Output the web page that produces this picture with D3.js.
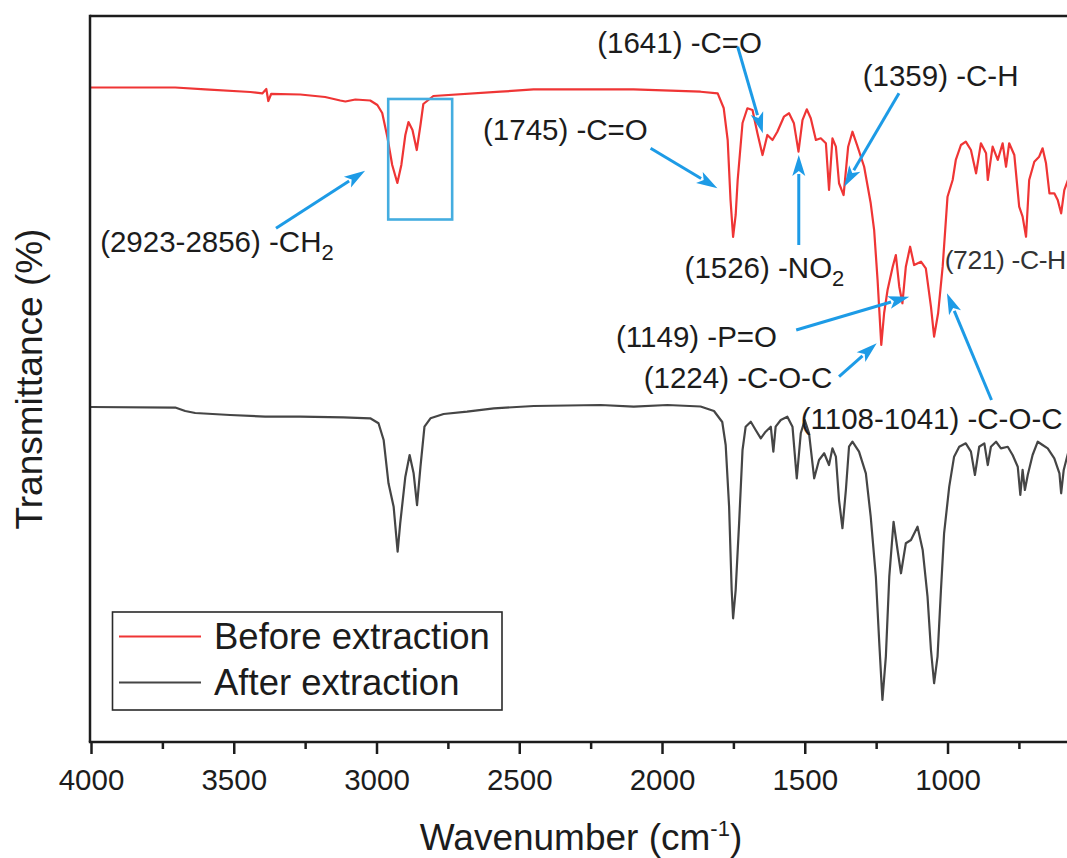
<!DOCTYPE html>
<html>
<head>
<meta charset="utf-8">
<script src="https://cdn.jsdelivr.net/npm/d3@7"></script>
<style>
  html, body { margin: 0; padding: 0; background: #fff; }
  svg { display: block; font-family: "Liberation Sans", Arial, sans-serif; }
</style>
</head>
<body>
<svg id="chart" width="1067" height="858"></svg>
<script>
// ---------------- data (wavenumber cm-1, relative transmittance) ----------------
const beforeExtraction = [
  [4000,90.15],[3705,90.15],[3600,89.88],[3442,89.53],[3400,89.33],[3386,89.94],[3379,88.29],
  [3369,89.26],[3267,89.19],[3180,88.84],[3127,88.36],[3109,88.22],[3074,88.50],[3022,88.36],
  [2997,87.74],[2980,86.64],[2962,83.33],[2945,79.48],[2927,77.00],[2913,79.48],[2899,83.61],
  [2888,85.40],[2874,84.30],[2859,81.54],[2846,84.99],[2836,87.88],[2801,88.98],[2566,89.57],
  [2450,89.90],[2100,89.90],[1865,89.57],[1805,89.35],[1784,87.33],[1770,82.92],[1760,74.66],
  [1751,69.56],[1742,72.59],[1735,77.41],[1718,85.26],[1701,87.29],[1683,87.05],[1666,83.88],
  [1648,80.85],[1631,83.61],[1613,82.92],[1596,84.06],[1573,86.13],[1555,86.60],[1538,85.22],
  [1522,81.31],[1508,85.67],[1493,87.15],[1479,85.91],[1461,82.92],[1444,83.15],[1426,82.47],
  [1415,76.03],[1403,83.15],[1391,82.00],[1380,76.96],[1364,75.34],[1348,82.00],[1333,84.06],
  [1315,82.00],[1292,79.24],[1269,74.20],[1257,70.52],[1245,63.64],[1232,54.68],[1222,59.09],
  [1210,62.26],[1192,65.47],[1181,67.08],[1169,62.71],[1158,60.43],[1146,65.47],[1131,68.22],
  [1117,65.70],[1093,66.16],[1076,65.25],[1058,59.96],[1047,55.83],[1033,59.05],[1017,65.47],
  [1000,75.11],[982,77.41],[971,80.17],[953,82.23],[936,82.69],[918,81.54],[900,78.33],
  [883,82.47],[865,81.09],[859,77.41],[842,82.00],[824,80.17],[807,82.47],[795,79.24],
  [784,82.47],[766,80.85],[749,73.73],[737,72.36],[725,69.60],[714,77.41],[696,79.93],
  [679,80.62],[667,81.78],[655,79.71],[643,75.58],[626,75.58],[614,74.66],[602,72.82],
  [591,76.03],[578,77.41],[564,78.79]
];

const afterExtraction = [
  [4000,46.14],[3705,46.07],[3670,45.59],[3635,45.32],[3513,45.04],[3390,44.83],[3267,44.81],
  [3116,44.72],[3022,44.59],[2993,43.90],[2975,41.60],[2958,35.63],[2940,32.41],[2926,26.21],
  [2917,30.12],[2899,36.54],[2884,39.53],[2870,37.01],[2858,32.64],[2846,37.92],[2832,43.43],
  [2811,44.59],[2765,45.18],[2683,45.50],[2589,45.96],[2449,46.28],[2215,46.42],[2099,46.19],
  [1981,46.42],[1865,46.21],[1818,45.59],[1789,44.08],[1777,40.91],[1765,32.41],[1756,20.94],
  [1751,17.04],[1742,20.94],[1730,30.12],[1718,40.22],[1707,43.43],[1689,44.12],[1672,42.98],
  [1654,41.83],[1637,42.74],[1619,43.43],[1610,39.99],[1602,43.43],[1584,44.35],[1561,44.81],
  [1543,43.43],[1528,36.32],[1514,42.52],[1500,44.35],[1485,42.52],[1467,36.32],[1450,38.84],
  [1432,39.77],[1415,38.15],[1403,40.45],[1391,39.30],[1380,33.33],[1368,29.44],[1356,34.71],
  [1345,40.67],[1333,41.36],[1310,39.99],[1286,37.01],[1269,31.03],[1251,22.77],[1239,13.60],
  [1228,5.79],[1216,11.75],[1204,22.77],[1189,30.34],[1175,26.45],[1163,23.24],[1146,27.37],
  [1128,27.82],[1105,29.66],[1087,26.45],[1070,20.01],[1058,12.67],[1047,8.09],[1035,11.75],
  [1023,20.94],[1012,28.75],[994,35.17],[977,39.30],[959,40.67],[936,41.14],[918,39.99],
  [904,36.78],[889,40.67],[871,41.14],[859,38.15],[848,40.67],[830,41.36],[813,40.45],
  [789,40.67],[772,39.53],[754,37.92],[745,34.02],[737,37.47],[729,34.71],[719,36.78],
  [702,39.53],[684,41.36],[667,40.91],[649,40.45],[626,39.08],[608,37.01],[602,34.26],
  [593,37.47],[578,39.77],[564,40.22]
];

const seriesNames = ["Before extraction", "After extraction"];
const xTickValues = [4000, 3500, 3000, 2500, 2000, 1500, 1000];
const xMinorTickValues = [3750, 3250, 2750, 2250, 1750, 1250, 750];

// peak-assignment labels: text anchor (wavenumber, value) and arrow (from -> to)
const peakLabels = [
  { text: "(2923-2856) -CH", sub: "2", at: [3968, 67.49], from: [3352, 70.76], to: [3040, 78.69] },
  { text: "(1745) -C=O", at: [2627, 82.92], from: [2040, 81.78], to: [1806, 76.27] },
  { text: "(1641) -C=O", at: [2227, 94.86], from: [1735, 95.77], to: [1647, 83.84] },
  { text: "(1359) -C-H", at: [1297, 90.36], from: [1170, 89.35], to: [1362, 76.49] },
  { text: "(1526) -NO", sub: "2", at: [1921, 63.87], from: [1521, 68.46], to: [1521, 80.85] },
  { text: "(721) -C-H", at: [1010, 65.15], small: true },
  { text: "(1149) -P=O", at: [2161, 54.45], from: [1530, 56.75], to: [1134, 61.34] },
  { text: "(1224) -C-O-C", at: [2064, 48.72], from: [1380, 50.32], to: [1248, 54.92] },
  { text: "(1108-1041) -C-O-C", at: [1514, 43.18], from: [846, 47.11], to: [1002, 61.80] }
];
const highlightBox = { w: [2959, 2735], v: [88.57, 71.97] };

// ---------------- layout ----------------
const svg = d3.select("#chart");
const W = 1067, H = 858;
const plot = { left: 90, top: 16, bottom: 742, right: 1072 };
const FONT = '"Liberation Sans", Arial, sans-serif';
const RED = "#ef3535", GRAY = "#454545", BLUE = "#1d9be6", BOX = "#44ade0", INK = "#1c1c1c";

const x = d3.scaleLinear().domain([4000, 564]).range([91, plot.right]);
const y = d3.scaleLinear().domain([0, 100]).range([plot.bottom, plot.top]);

svg.append("defs").append("clipPath").attr("id", "clip")
  .append("rect").attr("x", plot.left).attr("y", plot.top)
  .attr("width", plot.right - plot.left).attr("height", plot.bottom - plot.top);

const line = d3.line().x(d => x(d[0])).y(d => y(d[1]));

const curves = svg.append("g").attr("clip-path", "url(#clip)");
curves.append("path").datum(afterExtraction)
  .attr("d", line).attr("fill", "none").attr("stroke", GRAY)
  .attr("stroke-width", 2.2).attr("stroke-linejoin", "round");
curves.append("path").datum(beforeExtraction)
  .attr("d", line).attr("fill", "none").attr("stroke", RED)
  .attr("stroke-width", 2.2).attr("stroke-linejoin", "round");

// frame (top + left)
svg.append("line").attr("x1", plot.left).attr("x2", W + 10)
  .attr("y1", plot.top).attr("y2", plot.top)
  .attr("stroke", INK).attr("stroke-width", 2.5);
svg.append("line").attr("x1", plot.left).attr("x2", plot.left)
  .attr("y1", plot.top - 1.2).attr("y2", plot.bottom)
  .attr("stroke", INK).attr("stroke-width", 2.5);

// bottom axis
const xAxis = d3.axisBottom(x).tickValues(xTickValues).tickSize(12).tickSizeOuter(0)
  .tickPadding(15).tickFormat(d3.format("d"));
const gx = svg.append("g").attr("transform", `translate(0,${plot.bottom})`).call(xAxis);
gx.select(".domain").remove();
gx.selectAll(".tick line").attr("stroke", INK).attr("stroke-width", 2.5);
gx.selectAll(".tick text").attr("fill", INK).style("font-size", "29.5px").style("font-family", FONT);

const gxm = svg.append("g").attr("transform", `translate(0,${plot.bottom})`)
  .call(d3.axisBottom(x).tickValues(xMinorTickValues).tickSize(7).tickSizeOuter(0).tickFormat(""));
gxm.select(".domain").remove();
gxm.selectAll(".tick line").attr("stroke", INK).attr("stroke-width", 2.5);

svg.append("line").attr("x1", plot.left - 1.2).attr("x2", W + 10)
  .attr("y1", plot.bottom).attr("y2", plot.bottom)
  .attr("stroke", INK).attr("stroke-width", 2.5);

// axis titles
const xt = svg.append("text").attr("x", 581).attr("y", 850).attr("text-anchor", "middle")
  .attr("fill", INK).style("font-size", "37px");
xt.append("tspan").text("Wavenumber (cm");
xt.append("tspan").text("-1").style("font-size", "22px").attr("dy", -14);
xt.append("tspan").text(")").attr("dy", 14);

svg.append("text").attr("transform", "translate(42,379) rotate(-90)")
  .attr("text-anchor", "middle").attr("fill", INK).style("font-size", "37px")
  .text("Transmittance (%)");

// highlight box
svg.append("rect")
  .attr("x", x(highlightBox.w[0])).attr("y", y(highlightBox.v[0]))
  .attr("width", x(highlightBox.w[1]) - x(highlightBox.w[0]))
  .attr("height", y(highlightBox.v[1]) - y(highlightBox.v[0]))
  .attr("fill", "none").attr("stroke", BOX).attr("stroke-width", 2.6);

// annotations
const ann = svg.append("g");
peakLabels.forEach(p => {
  const t = ann.append("text").attr("x", x(p.at[0])).attr("y", y(p.at[1]))
    .attr("fill", p.small ? "#333" : INK)
    .style("font-size", p.small ? "26.5px" : "29.5px")
    .style("letter-spacing", p.small ? "-0.4px" : null);
  t.append("tspan").text(p.text);
  if (p.sub) t.append("tspan").text(p.sub).style("font-size", "22px").attr("dy", 8);
  if (p.from) {
    const x1 = x(p.from[0]), y1 = y(p.from[1]), x2 = x(p.to[0]), y2 = y(p.to[1]);
    const dx = x2 - x1, dy = y2 - y1, len = Math.hypot(dx, dy);
    const ux = dx / len, uy = dy / len, headL = 21, headW = 6.5;
    const bx = x2 - ux * headL, by = y2 - uy * headL;
    ann.append("line").attr("x1", x1).attr("y1", y1).attr("x2", bx + ux * 2).attr("y2", by + uy * 2)
      .attr("stroke", BLUE).attr("stroke-width", 3);
    ann.append("path")
      .attr("d", `M${x2},${y2}L${bx - uy * headW},${by + ux * headW}L${bx + ux * 5},${by + uy * 5}L${bx + uy * headW},${by - ux * headW}Z`)
      .attr("fill", BLUE);
  }
});

// legend
const lg = svg.append("g");
lg.append("rect").attr("x", 112.5).attr("y", 612).attr("width", 389.5).attr("height", 98)
  .attr("fill", "#fff").attr("stroke", "#2a2a2a").attr("stroke-width", 1.6);
[[RED, 636.5, 648.5], [GRAY, 682.5, 695]].forEach((c, i) => {
  lg.append("line").attr("x1", 119).attr("x2", 201).attr("y1", c[1]).attr("y2", c[1])
    .attr("stroke", c[0]).attr("stroke-width", 2.2);
  lg.append("text").attr("x", 214).attr("y", c[2]).attr("fill", INK)
    .style("font-size", "36.5px").text(seriesNames[i]);
});
</script>
</body>
</html>
